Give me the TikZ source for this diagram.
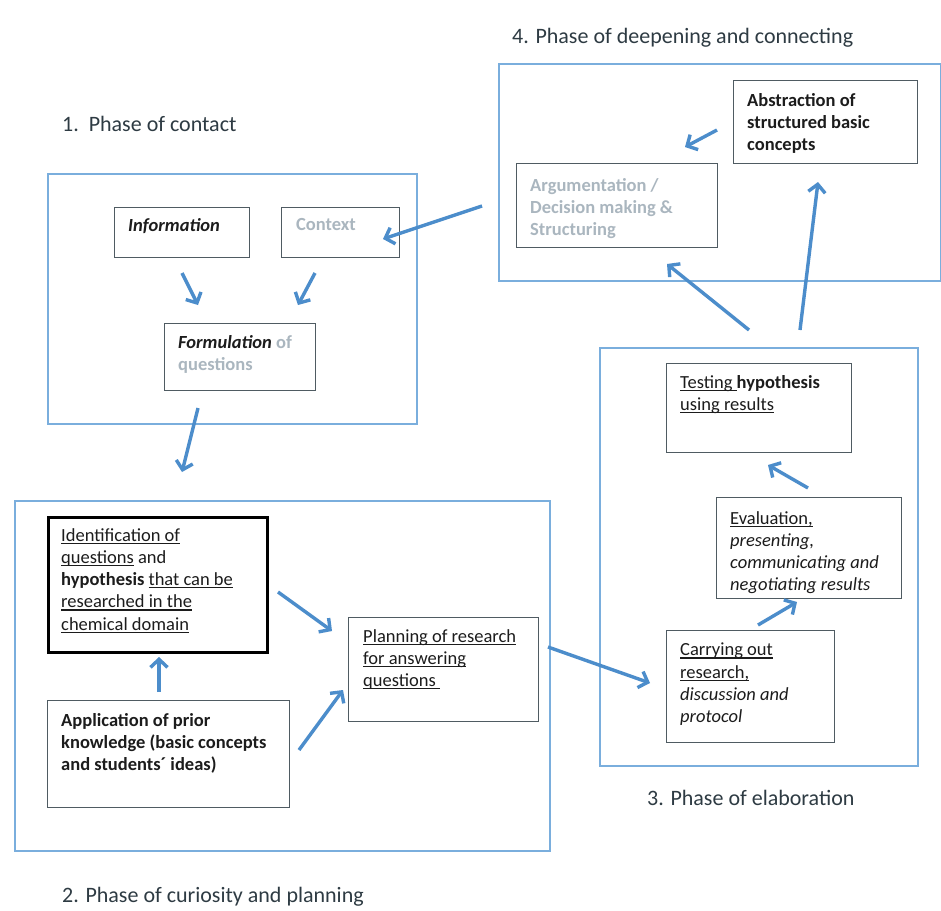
\documentclass[tikz,border=0pt]{standalone}
\usepackage{fontspec}
\setmainfont{Carlito}
\usepackage{xcolor}
\usepackage{tikz}
\usetikzlibrary{arrows.meta,positioning}

\definecolor{phaseblue}{HTML}{7AAEDD}
\definecolor{flowblue}{HTML}{4C8DCB}
\definecolor{boxgray}{HTML}{4F5B62}
\definecolor{softgray}{HTML}{AAB6BF}
\definecolor{inkdark}{HTML}{1C1C1C}
\definecolor{titlegray}{HTML}{2E3B43}

\newlength{\undlw}
\newcommand{\undl}[1]{\settowidth{\undlw}{#1}\rlap{\rule[-2.6pt]{\undlw}{1.1pt}}#1}
\newcommand{\boxfont}{\fontsize{18.5}{22.3}\selectfont}
\newcommand{\titlefont}{\fontsize{22}{26}\selectfont}

\begin{document}
\begin{tikzpicture}[x=1pt, y=-1pt,
    phase/.style = {draw=phaseblue, line width=1.8pt, anchor=north west, inner sep=0pt},
    stage/.style = {draw=boxgray, line width=1.3pt, anchor=north west, inner sep=0pt},
    txt/.style = {anchor=north west, align=left, inner sep=0pt, font=\boxfont, text=inkdark},
    title/.style = {anchor=base west, inner sep=0pt, font=\titlefont, text=titlegray},
    flow/.style = {-{Straight Barb[length=8pt, width=17pt]}, draw=flowblue, line width=3.4pt}
  ]
    \path[use as bounding box, fill=white] (0,0) rectangle (941,910);

    % phase frames
    \node(P4) at (498,63) [phase, minimum width=442pt, minimum height=217pt] {};
    \node(P1) at (47,173) [phase, minimum width=369pt, minimum height=250pt] {};
    \node(P2) at (14,500) [phase, minimum width=535pt, minimum height=350pt] {};
    \node(P3) at (599,347) [phase, minimum width=318pt, minimum height=418pt] {};

    \node(T4) at (512,43) [title] {4. Phase of deepening and connecting};
    \node(T1) at (62,131) [title] {1.\hspace{0.45em}Phase of contact};
    \node(T2) at (62,902) [title] {2. Phase of curiosity and planning};
    \node(T3) at (647,805) [title] {3. Phase of elaboration};

    % stages
    \node(Abs) at (733,80) [stage, minimum width=184pt, minimum height=83pt] {};
    \node(Arg) at (516,163) [stage, minimum width=201pt, minimum height=84pt] {};
    \node(Inf) at (114,207) [stage, minimum width=135pt, minimum height=50pt] {};
    \node(Ctx) at (281,207) [stage, minimum width=118pt, minimum height=50pt] {};
    \node(Frm) at (164,323) [stage, minimum width=151pt, minimum height=67pt] {};
    \node(Idf) at (47,516) [stage, draw=black, line width=3.2pt, minimum width=219pt, minimum height=135pt] {};
    \node(App) at (47,700) [stage, minimum width=242pt, minimum height=107pt] {};
    \node(Pln) at (348,617) [stage, minimum width=190pt, minimum height=104pt] {};
    \node(Tst) at (666,363) [stage, minimum width=185pt, minimum height=89pt] {};
    \node(Evl) at (716,497) [stage, minimum width=185pt, minimum height=101pt] {};
    \node(Car) at (666,630) [stage, minimum width=168pt, minimum height=112pt] {};

    \node(AbsT) at (747,93) [txt] {\textbf{Abstraction of}\\\textbf{structured basic}\\\textbf{concepts}};
    \node(ArgT) at (530,178) [txt, text=softgray] {\textbf{Argumentation /}\\\textbf{Decision making \&}\\\textbf{Structuring}};
    \node(InfT) at (128,218) [txt] {\textbf{\textit{Information}}};
    \node(CtxT) at (296,218) [txt, text=softgray] {\textbf{Context}};
    \node(FrmT) at (178,335) [txt] {\textbf{\textit{Formulation}} \textcolor{softgray}{\textbf{of}}\\\textcolor{softgray}{\textbf{questions}}};
    \node(IdfT) at (61,528) [txt] {\undl{Identification of}\\\undl{questions} and\\\textbf{hypothesis} \undl{that can be}\\\undl{researched in the}\\\undl{chemical domain}};
    \node(AppT) at (61,713) [txt] {\textbf{Application of prior}\\\textbf{knowledge (basic concepts}\\\textbf{and students´ ideas)}};
    \node(PlnT) at (363,629) [txt] {\undl{Planning of research}\\\undl{for answering}\\\undl{questions\ }};
    \node(TstT) at (680,375) [txt] {\undl{Testing }\textbf{hypothesis}\\\undl{using results}};
    \node(EvlT) at (730,511) [txt] {\undl{Evaluation,}\\\textit{presenting,}\\\textit{communicating and}\\\textit{negotiating results}};
    \node(CarT) at (680,643) [txt] {\undl{Carrying out}\\\undl{research,}\\\textit{discussion and}\\\textit{protocol}};

    % arrow ends
    \coordinate(E1) at (685,147);
    \coordinate(E2) at (667,264);
    \coordinate(E3) at (818,182);
    \coordinate(E4) at (383,239);
    \coordinate(E5) at (198,305);
    \coordinate(E6) at (298,305);
    \coordinate(E7) at (182,472);
    \coordinate(E8) at (332,631);
    \coordinate(E9) at (159,657);
    \coordinate(E10) at (343,690);
    \coordinate(E11) at (650,683);
    \coordinate(E12) at (797,602);
    \coordinate(E13) at (768,465);

    \coordinate(S1) at (717,130) edge [flow] (E1);
    \coordinate(S2) at (749,330) edge [flow] (E2);
    \coordinate(S3) at (800,330) edge [flow] (E3);
    \coordinate(S4) at (482,206) edge [flow] (E4);
    \coordinate(S5) at (182,273) edge [flow] (E5);
    \coordinate(S6) at (315,273) edge [flow] (E6);
    \coordinate(S7) at (198,408) edge [flow] (E7);
    \coordinate(S8) at (278,592) edge [flow] (E8);
    \coordinate(S9) at (159,692) edge [flow] (E9);
    \coordinate(S10) at (299,750) edge [flow] (E10);
    \coordinate(S11) at (548,647) edge [flow] (E11);
    \coordinate(S12) at (758,625) edge [flow] (E12);
    \coordinate(S13) at (808,488) edge [flow] (E13);
\end{tikzpicture}
\end{document}
